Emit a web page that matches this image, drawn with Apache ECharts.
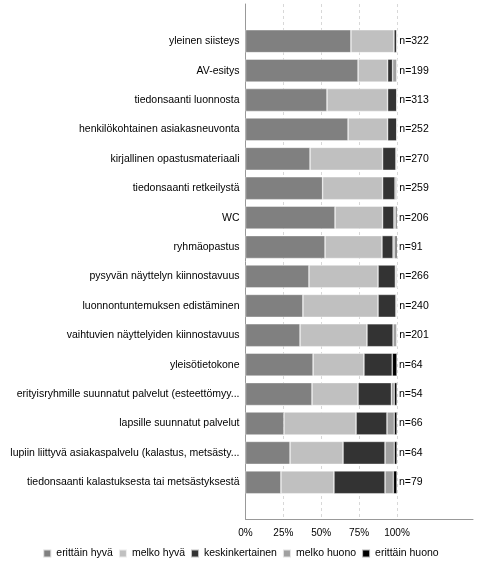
<!DOCTYPE html>
<html><head><meta charset="utf-8">
<script src="https://cdn.jsdelivr.net/npm/echarts@6/dist/echarts.min.js"></script>
<style>html,body{margin:0;padding:0;background:#fff}#c{width:481px;height:562px}</style>
</head><body><div id="c"></div>
<script>
const categories = [
  'yleinen siisteys','AV-esitys','tiedonsaanti luonnosta','henkilökohtainen asiakasneuvonta',
  'kirjallinen opastusmateriaali','tiedonsaanti retkeilystä','WC','ryhmäopastus',
  'pysyvän näyttelyn kiinnostavuus','luonnontuntemuksen edistäminen','vaihtuvien näyttelyiden kiinnostavuus',
  'yleisötietokone','erityisryhmille suunnatut palvelut (esteettömyy...','lapsille suunnatut palvelut',
  'lupiin liittyvä asiakaspalvelu (kalastus, metsästy...','tiedonsaanti kalastuksesta tai metsästyksestä'
];
const nValues = [322,199,313,252,270,259,206,91,266,240,201,64,54,66,64,79];
const seriesNames = ['erittäin hyvä','melko hyvä','keskinkertainen','melko huono','erittäin huono'];
const erittainHyva = [69.6,74.3,53.8,67.7,42.6,50.9,59.1,52.5,41.9,37.9,36.0,44.6,43.9,25.4,29.4,23.4];
const melkoHyva    = [28.4,19.5,40.0,26.1,47.9,39.6,31.4,37.6,45.6,49.6,44.2,33.6,30.4,47.6,35.0,35.0];
const keskinkert   = [2.0,3.3,6.2,6.2,8.8,8.2,7.5,7.3,11.4,11.8,17.2,18.7,22.0,20.4,27.7,33.7];
const melkoHuono   = [0,2.9,0,0,0.7,1.3,1.0,1.3,1.1,0.7,2.6,0,1.9,4.8,6.1,5.5];
const erittainHuono= [0,0,0,0,0,0,1.0,1.3,0,0,0,3.1,1.8,1.8,1.8,2.4];
const tickValues = [0,25,50,75,100];

const colors = ['#808080','#c0c0c0','#333333','#a0a0a0','#000000'];
const dataSets = [erittainHyva, melkoHyva, keskinkert, melkoHuono, erittainHuono];
const FONT = 'Liberation Sans, Arial, sans-serif';

const chart = echarts.init(document.getElementById('c'), null, {renderer:'canvas'});
const series = dataSets.map((d,i)=>({
  name: seriesNames[i], type:'bar', stack:'s', xAxisIndex:1, yAxisIndex:1,
  data: d, barCategoryGap:'22%',
  itemStyle:{color:colors[i], borderColor:'rgba(255,255,255,0.7)', borderWidth:0.6},
  emphasis:{disabled:true},
  label: i===4 ? {show:true, position:'right', distance:2, color:'#000', fontSize:10.5, fontFamily:FONT,
    formatter:p=>'n='+nValues[p.dataIndex]} : {show:false}
}));

chart.setOption({
  animation:false,
  textStyle:{fontFamily:FONT},
  legend:{data:seriesNames, bottom:-2, left:'center', icon:'rect', itemWidth:8, itemHeight:8, itemGap:5,
    textStyle:{fontSize:10.5, color:'#000', fontFamily:FONT}, selectedMode:false},
  grid:[
    {left:245.5, right:8, top:4, bottom:43},
    {left:245.5, right:84, top:26.5, bottom:65},
    {left:245.5, right:84, top:4, bottom:43}
  ],
  xAxis:[
    {gridIndex:0, type:'value', min:0, max:150, axisLine:{show:true, lineStyle:{color:'#999'}},
      axisTick:{show:false}, axisLabel:{show:false}, splitLine:{show:false}},
    {gridIndex:1, type:'value', min:0, max:100, show:false},
    {gridIndex:2, type:'value', min:0, max:100, interval:25, data:tickValues,
      axisLine:{show:false}, axisTick:{show:false},
      axisLabel:{formatter:'{value}%', color:'#000', fontSize:10, margin:9, fontFamily:FONT},
      splitLine:{show:true, lineStyle:{color:'#d8d8d8', type:[3,3], width:1}}}
  ],
  yAxis:[
    {gridIndex:0, type:'value', min:0, max:1, axisLine:{show:true, lineStyle:{color:'#999'}},
      axisTick:{show:false}, axisLabel:{show:false}, splitLine:{show:false}},
    {gridIndex:1, type:'category', data:categories, inverse:true,
      axisLine:{show:false}, axisTick:{show:false},
      axisLabel:{color:'#000', fontSize:10.5, margin:6, fontFamily:FONT}},
    {gridIndex:2, type:'value', min:0, max:1, show:false}
  ],
  series: series
});
</script></body></html>
